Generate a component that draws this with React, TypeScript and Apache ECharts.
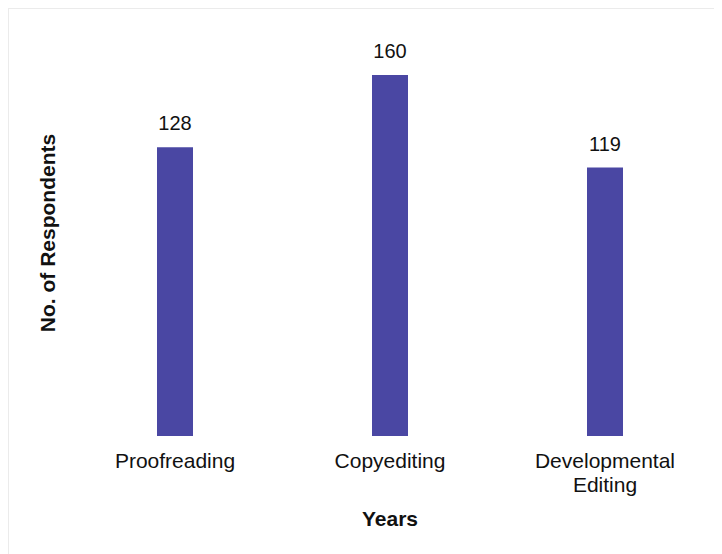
import React, { useEffect, useRef } from "react";
import * as echarts from "echarts";

const categories = ["Proofreading", "Copyediting", "Developmental\nEditing"];
const respondents = [128, 160, 119];
const xAxisTitle = "Years";
const yAxisTitle = "No. of Respondents";

export default function App() {
  const ref = useRef<HTMLDivElement>(null);
  useEffect(() => {
    if (!ref.current) return;
    const chart = echarts.init(ref.current, null, { renderer: "svg" });
    const font = "Liberation Sans, Arial, Helvetica, sans-serif";
    chart.setOption({
      animation: false,
      backgroundColor: "#ffffff",
      textStyle: { fontFamily: font },
      grid: { left: 58.5, width: 645, top: 66, bottom: 118 },
      xAxis: {
        type: "category",
        data: categories,
        axisLine: { show: false },
        axisTick: { show: false },
        axisLabel: { color: "#111", fontSize: 21, margin: 12, lineHeight: 24, fontFamily: font },
        name: xAxisTitle,
        nameLocation: "middle",
        nameGap: 72,
        nameTextStyle: { color: "#111", fontSize: 21, fontWeight: "bold", fontFamily: font },
      },
      yAxis: {
        type: "value",
        min: 0,
        max: 160,
        show: true,
        axisLine: { show: false },
        axisTick: { show: false },
        axisLabel: { show: false },
        splitLine: { show: false },
      },
      graphic: [
        {
          type: "text",
          x: 38,
          y: 224,
          rotation: Math.PI / 2,
          style: {
            text: yAxisTitle,
            fill: "#111",
            font: "bold 21px " + font,
            align: "center",
            verticalAlign: "middle",
          },
        },
      ],
      series: [
        {
          type: "bar",
          data: respondents,
          barWidth: 36,
          itemStyle: { color: "#4a47a3" },
          label: {
            show: true,
            position: "top",
            distance: 14,
            color: "#111",
            fontSize: 20,
            fontFamily: font,
          },
        },
      ],
    });
    return () => chart.dispose();
  }, []);
  return (
    <div style={{ width: 714, height: 546, borderTop: "1px solid #ebebeb", borderLeft: "1px solid #ebebeb", boxSizing: "border-box" }}>
      <div ref={ref} style={{ width: 713, height: 545 }} />
    </div>
  );
}
